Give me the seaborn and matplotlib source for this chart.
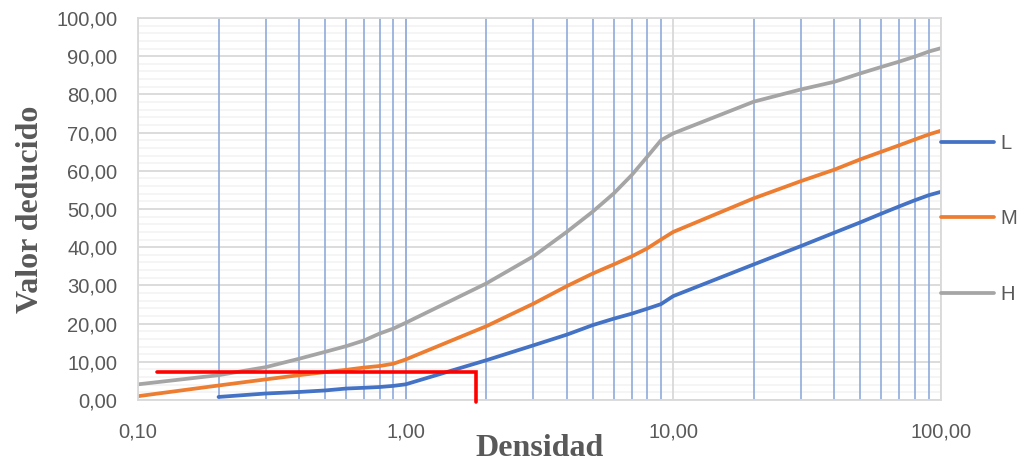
import numpy as np
import pandas as pd
import matplotlib
matplotlib.use('Agg')
import matplotlib.pyplot as plt
import matplotlib.ticker as mticker
import seaborn as sns

# densidad values (x) and deduced values for each severity
densidad = [0.1, 0.2, 0.3, 0.4, 0.5, 0.6, 0.7, 0.8, 0.9, 1, 2, 3, 4, 5, 6, 7, 8, 9, 10,
            20, 30, 40, 50, 60, 70, 80, 90, 100]
vd_L = [None, 0.8, 1.7, 2.1, 2.5, 3.0, 3.2, 3.4, 3.7, 4.1, 10.4, 14.3, 17.1, 19.6, 21.3, 22.6, 23.9, 25.1, 27.2,
        35.5, 40.3, 43.8, 46.5, 48.8, 50.7, 52.3, 53.6, 54.5]
vd_M = [1.0, 3.8, 5.4, 6.5, 7.3, 7.9, 8.5, 8.9, 9.5, 10.6, 19.3, 25.2, 29.8, 33.1, 35.5, 37.6, 39.7, 42.0, 44.0,
        52.8, 57.3, 60.3, 63.0, 65.0, 66.7, 68.2, 69.5, 70.5]
vd_H = [4.1, 6.5, 8.6, 10.8, 12.6, 14.1, 15.6, 17.4, 18.7, 20.2, 30.5, 37.6, 44.0, 49.3, 54.1, 58.9, 63.7, 68.0, 69.8,
        78.1, 81.3, 83.3, 85.5, 87.2, 88.6, 89.9, 91.2, 92.1]

# red reading line
red_x = [0.118, 1.826, 1.826]
red_y = [7.4, 7.4, -0.5]

df = pd.DataFrame({'Densidad': densidad, 'L': vd_L, 'M': vd_M, 'H': vd_H})
df = df.melt(id_vars='Densidad', var_name='Serie', value_name='Valor').dropna()

sns.set_style('white')
plt.rcParams['font.family'] = ['Liberation Sans', 'DejaVu Sans']

fig = plt.figure(figsize=(10.26, 4.68), dpi=100)
ax = fig.add_axes([0.1345, 0.1453, 0.7825, 0.8162])

colors = {'L': '#4472C4', 'M': '#ED7D31', 'H': '#A5A5A5'}
sns.lineplot(data=df, x='Densidad', y='Valor', hue='Serie', palette=colors,
             linewidth=2.7, ax=ax, sort=True)
ax.plot(red_x, red_y, color='#FF0000', linewidth=2.6, solid_joinstyle='miter',
        clip_on=False, zorder=5)

ax.set_xscale('log')
ax.set_xlim(0.1, 100)
ax.set_ylim(0, 100)

ax.xaxis.set_major_locator(mticker.FixedLocator([0.1, 1, 10, 100]))
minor_x = [m * d for d in [0.1, 1, 10] for m in range(2, 10)] + [1]
ax.xaxis.set_minor_locator(mticker.FixedLocator(minor_x))
ax.xaxis.remove_overlapping_locs = False
ax.xaxis.set_major_formatter(mticker.FuncFormatter(lambda v, p: f"{v:.2f}".replace('.', ',')))
ax.xaxis.set_minor_formatter(mticker.NullFormatter())

ax.yaxis.set_major_locator(mticker.MultipleLocator(10))
ax.yaxis.set_minor_locator(mticker.MultipleLocator(2))
ax.yaxis.set_major_formatter(mticker.FuncFormatter(lambda v, p: f"{v:.2f}".replace('.', ',')))

ax.grid(which='major', axis='both', color='#D9D9D9', linewidth=1.3, linestyle='-')
ax.grid(which='minor', axis='y', color='#F2F2F2', linewidth=1.1, linestyle='-')
ax.grid(which='minor', axis='x', color='#8FAADC', linewidth=1.2, linestyle='-')
ax.set_axisbelow(True)
# vertical grid on top of the horizontal one
ax.yaxis.set_zorder(0.3)
ax.xaxis.set_zorder(0.6)

ax.tick_params(axis='both', which='both', length=0, labelsize=14.5, labelcolor='#595959')
ax.tick_params(axis='y', pad=15)
ax.tick_params(axis='x', pad=16)

for s in ax.spines.values():
    s.set_color('#D9D9D9')
    s.set_linewidth(1.3)

ax.set_xlabel('Densidad', fontsize=23, fontweight='bold', color='#595959',
              family=['Liberation Serif'], labelpad=-5)
ax.set_ylabel('Valor deducido', fontsize=23, fontweight='bold', color='#595959',
              family=['Liberation Serif'], labelpad=8)

ax.legend(loc='center left', bbox_to_anchor=(1.0, 0.474), frameon=False,
          fontsize=14.5, handlelength=2.64, handletextpad=0.3, labelspacing=2.82,
          borderpad=0, borderaxespad=0, labelcolor='#595959')

plt.savefig('out.png', dpi=100)
